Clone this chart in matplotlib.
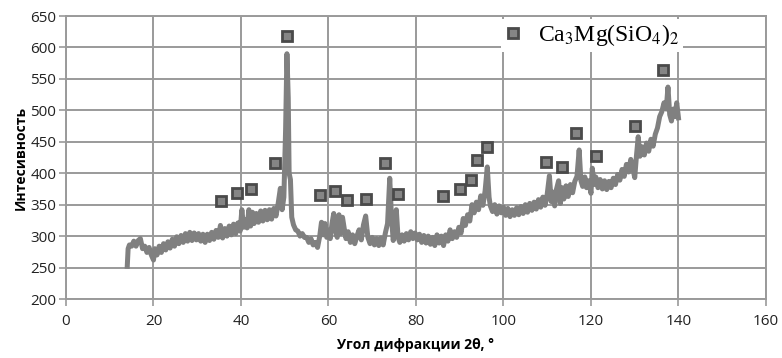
import matplotlib
matplotlib.use("Agg")
import matplotlib.pyplot as plt
from matplotlib.lines import Line2D

# ---- data ----
two_theta = [14.0, 14.2, 14.5, 15.0, 15.5, 16.0, 16.5, 17.0, 17.5, 18.0, 18.5, 19.0, 19.5, 20.0,
             20.3, 20.8, 21.3, 21.8, 22.3, 22.8, 23.3, 23.8, 24.3, 24.8, 25.3, 25.8, 26.3, 26.8,
             27.3, 27.8, 28.3, 28.8, 29.3, 29.8, 30.3, 30.8, 31.3, 31.8, 32.3, 32.8, 33.3, 33.8,
             34.3, 34.8, 35.3, 35.8, 36.3, 36.8, 37.3, 37.8, 38.3, 38.8, 39.3, 39.8, 40.2, 40.6,
             41.0, 41.4, 41.8, 42.2, 42.6, 43.0, 43.5, 44.0, 44.5, 45.0, 45.5, 46.0, 46.5, 47.0,
             47.5, 48.0, 48.5, 49.0, 49.4, 49.8, 50.2, 50.5, 50.8, 51.0, 51.3, 51.6, 52.0, 52.5,
             53.0, 53.5, 54.0, 54.5, 55.0, 55.5, 56.0, 56.5, 57.0, 57.5, 58.0, 58.4, 58.8, 59.2,
             59.6, 60.0, 60.4, 60.8, 61.2, 61.6, 62.0, 62.4, 62.8, 63.2, 63.6, 64.0, 64.5, 65.0,
             65.5, 66.0, 66.5, 67.0, 67.5, 68.0, 68.5, 69.0, 69.5, 70.0, 70.5, 71.0, 71.5, 72.0,
             72.5, 73.0, 73.5, 74.0, 74.4, 74.8, 75.2, 75.5, 75.9, 76.3, 76.8, 77.3, 77.8, 78.3,
             78.8, 79.3, 79.8, 80.3, 80.8, 81.3, 81.8, 82.3, 82.8, 83.3, 83.8, 84.3, 84.8, 85.3,
             85.8, 86.3, 86.8, 87.3, 87.8, 88.3, 88.8, 89.3, 89.8, 90.3, 90.8, 91.3, 91.8, 92.3,
             92.8, 93.3, 93.8, 94.3, 94.8, 95.3, 95.8, 96.3, 96.7, 97.0, 97.5, 98.0, 98.5, 99.0,
             99.5, 100.0, 100.5, 101.0, 101.5, 102.0, 102.5, 103.0, 103.5, 104.0, 104.5, 105.0,
             105.5, 106.0, 106.5, 107.0, 107.5, 108.0, 108.5, 109.0, 109.5, 110.0, 110.5, 110.9,
             111.3, 111.7, 112.1, 112.6, 113.0, 113.4, 113.8, 114.3, 114.8, 115.3, 115.8, 116.3,
             116.8, 117.3, 117.7, 118.1, 118.6, 119.0, 119.5, 120.0, 120.3, 120.7, 121.1, 121.6,
             122.1, 122.6, 123.1, 123.6, 124.1, 124.6, 125.1, 125.6, 126.1, 126.6, 127.1, 127.6,
             128.1, 128.6, 129.1, 129.6, 130.0, 130.4, 130.8, 131.2, 131.7, 132.2, 132.7, 133.2,
             133.7, 134.2, 134.7, 135.2, 135.7, 136.2, 136.7, 137.2, 137.6, 138.0, 138.4, 138.8,
             139.2, 139.6, 140.0]
intensity = [252, 280, 286, 284, 292, 284, 293, 296, 280, 284, 274, 282, 270, 262,
             280, 270, 284, 274, 288, 278, 291, 281, 295, 284, 299, 288, 301, 290,
             304, 292, 306, 293, 305, 294, 304, 292, 303, 290, 303, 293, 306, 295,
             309, 298, 317, 297, 312, 300, 316, 302, 319, 304, 321, 308, 342, 314,
             326, 313, 342, 316, 338, 320, 336, 322, 340, 324, 341, 326, 342, 327,
             344, 332, 352, 376, 342, 362, 470, 590, 520, 400, 390, 330, 318, 310,
             308, 300, 304, 298, 298, 290, 296, 286, 290, 282, 300, 322, 302, 320,
             298, 310, 296, 320, 336, 308, 298, 334, 304, 330, 312, 296, 307, 290,
             302, 288, 300, 310, 294, 318, 332, 298, 288, 298, 286, 296, 285, 297,
             286, 305, 320, 392, 330, 293, 310, 342, 298, 290, 302, 292, 304, 294,
             307, 296, 305, 294, 303, 290, 301, 289, 300, 287, 298, 285, 302, 289,
             300, 285, 302, 292, 310, 296, 307, 298, 314, 305, 328, 317, 334, 324,
             350, 337, 354, 342, 364, 349, 372, 410, 362, 348, 339, 350, 335, 348,
             337, 346, 333, 344, 331, 342, 333, 345, 334, 347, 336, 350,
             338, 352, 341, 354, 343, 358, 346, 362, 349, 367, 396, 355,
             370, 348, 374, 388, 352, 377, 359, 380, 363, 382, 369, 387,
             395, 437, 388, 379, 394, 377, 388, 368, 408, 382, 394, 377,
             390, 375, 388, 374, 387, 377, 392, 382, 398, 389, 406, 395,
             414, 402, 422, 407, 393, 428, 458, 427, 442, 429, 448, 435,
             454, 443, 462, 472, 490, 498, 512, 502, 537, 493, 483, 502,
             490, 512, 488]

peak_theta = [35.4, 39.1, 42.3, 47.8, 50.5, 58.1, 61.5, 64.2, 68.6, 72.9, 75.9,
              86.2, 90.1, 92.6, 94.0, 96.2, 109.7, 113.4, 116.6, 121.1, 130.1, 136.5]
peak_marker_y = [356, 369, 375, 416, 618, 365, 372, 357, 359, 416, 367,
                 364, 375, 389, 421, 442, 418, 410, 464, 427, 475, 564]

phase_label = "Ca$_3$Mg(SiO$_4$)$_2$"
x_ticks = [0, 20, 40, 60, 80, 100, 120, 140, 160]
y_ticks = [200, 250, 300, 350, 400, 450, 500, 550, 600, 650]
x_label = "Угол дифракции 2θ, °"
y_label = "Интесивность"

# ---- figure ----
plt.rcParams['font.family'] = ['Open Sans', 'DejaVu Sans']
plt.rcParams['mathtext.fontset'] = 'stix'

fig = plt.figure(figsize=(7.82, 3.58), dpi=100)
ax = fig.add_axes([0.0844, 0.1648, 0.8951, 0.7905])

grid_c = '#9a9a9a'
ax.set_xlim(0, 160)
ax.set_ylim(200, 650)
ax.set_xticks(x_ticks)
ax.set_yticks(y_ticks)
ax.grid(True, color=grid_c, linewidth=1.4, zorder=0)
for s in ax.spines.values():
    s.set_color(grid_c)
    s.set_linewidth(1.4)
ax.tick_params(axis='both', colors=grid_c, length=5, width=1.2, labelsize=11,
               labelcolor='#222222')
ax.tick_params(axis='x', pad=6)
ax.tick_params(axis='y', pad=2)

ax.plot(two_theta, intensity, color='#808080', linewidth=3.6, zorder=3,
        solid_joinstyle='round')
ax.plot(peak_theta, peak_marker_y, linestyle='none', marker='s', markersize=7.5,
        markerfacecolor='#858585', markeredgecolor='#4a4a4a', markeredgewidth=2.0, zorder=4)

ax.set_xlabel(x_label, fontsize=10, fontweight='bold', labelpad=6)
ax.set_ylabel(y_label, fontsize=10, fontweight='bold', labelpad=2)

handle = Line2D([], [], linestyle='none', marker='s', markersize=7.5,
                markerfacecolor='#858585', markeredgecolor='#4a4a4a', markeredgewidth=2.0)
leg = ax.legend([handle], [phase_label], loc='upper left', bbox_to_anchor=(0.622, 0.99),
                frameon=True, fancybox=False, framealpha=1, facecolor='white',
                edgecolor='none', handlelength=0.7, handletextpad=0.7, borderpad=0.15,
                borderaxespad=0.0, prop={'family': 'Liberation Serif', 'size': 17})
leg.set_zorder(5)

fig.savefig('out.png', dpi=100)
